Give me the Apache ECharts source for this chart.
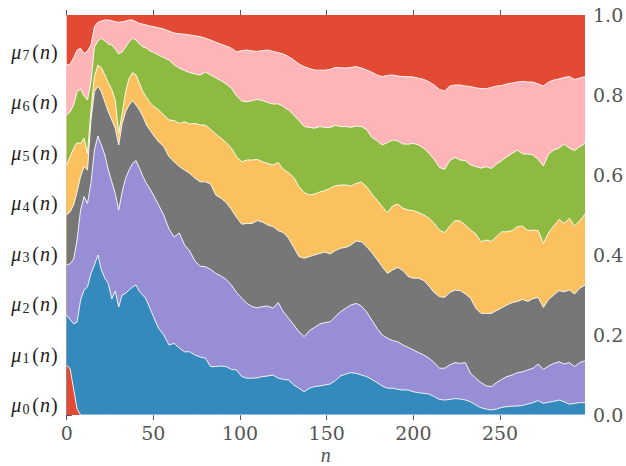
<!DOCTYPE html>
<html>
<head>
<meta charset="utf-8">
<title>Occupation shares μ_k(n)</title>
<script src="https://cdn.jsdelivr.net/npm/echarts@6/dist/echarts.min.js"></script>
<style>
  html, body { margin: 0; padding: 0; background: #ffffff; }
  #chart { width: 626px; height: 466px; }
</style>
</head>
<body>
<div id="chart"></div>
<script>
// step index n
const n = [
  0, 2, 4, 6, 8, 10, 12, 14, 16, 18, 20, 22, 24, 26, 28, 30, 32, 34, 36, 38, 40, 42, 44, 46, 48,
  50, 53, 56, 59, 62, 65, 68, 71, 74, 77,
  80, 83, 86, 89, 92, 95, 98, 101, 104, 107, 110, 113, 116, 119, 122, 125, 128, 131, 134, 137, 140, 143, 146, 149,
  152, 155, 158, 161, 164, 167, 170, 173, 176, 179, 182, 185, 188, 191, 194, 197, 200, 203, 206, 209, 212, 215, 218, 221, 224,
  227, 230, 233, 236, 239, 242, 245, 248, 251, 254, 257, 260, 263, 266, 269, 272, 275, 278, 281, 284, 287, 290, 293, 296, 299
];

// cumulative shares: edgeK = mu_0 + ... + mu_{K-1}
const edge1 = [
  0.125, 0.115, 0.065, 0.015, 0, 0, 0, 0, 0, 0, 0, 0, 0, 0, 0, 0, 0, 0, 0, 0, 0, 0, 0, 0, 0,
  0, 0, 0, 0, 0, 0, 0, 0, 0, 0,
  0, 0, 0, 0, 0, 0, 0, 0, 0, 0, 0, 0, 0, 0, 0, 0, 0, 0, 0, 0, 0, 0, 0, 0,
  0, 0, 0, 0, 0, 0, 0, 0, 0, 0, 0, 0, 0, 0, 0, 0, 0, 0, 0, 0, 0, 0, 0, 0, 0,
  0, 0, 0, 0, 0, 0, 0, 0, 0, 0, 0, 0, 0, 0, 0, 0, 0, 0, 0, 0, 0, 0, 0, 0, 0
];
const edge2 = [
  0.25, 0.238, 0.228, 0.232, 0.2875, 0.3125, 0.32, 0.354, 0.375, 0.40, 0.3625, 0.342, 0.329, 0.29, 0.31, 0.27, 0.30, 0.304, 0.3125, 0.32, 0.325, 0.308, 0.30, 0.2875, 0.267,
  0.246, 0.217, 0.20, 0.175, 0.179, 0.167, 0.158, 0.158, 0.15, 0.145,
  0.142, 0.121, 0.121, 0.1225, 0.121, 0.114, 0.1125, 0.096, 0.092, 0.092, 0.093, 0.096, 0.0975, 0.10, 0.092, 0.089, 0.0875, 0.075, 0.067, 0.058, 0.067, 0.071, 0.0725, 0.075,
  0.0775, 0.086, 0.0975, 0.1025, 0.106, 0.104, 0.10, 0.096, 0.089, 0.081, 0.0725, 0.067, 0.067, 0.064, 0.0625, 0.0625, 0.058, 0.056, 0.054, 0.0525, 0.046, 0.039, 0.0375, 0.039, 0.041,
  0.04, 0.0375, 0.033, 0.025, 0.018, 0.015, 0.0125, 0.015, 0.019, 0.021, 0.022, 0.0225, 0.024, 0.0275, 0.031, 0.036, 0.029, 0.032, 0.034, 0.0375, 0.033, 0.027, 0.029, 0.031, 0.031
];
const edge3 = [
  0.375, 0.378, 0.39, 0.4375, 0.5125, 0.546, 0.529, 0.579, 0.6625, 0.6975, 0.675, 0.65, 0.6125, 0.583, 0.554, 0.5125, 0.558, 0.592, 0.6125, 0.629, 0.636, 0.617, 0.596, 0.579, 0.565,
  0.55, 0.525, 0.50, 0.465, 0.445, 0.455, 0.425, 0.41, 0.385, 0.372,
  0.371, 0.364, 0.354, 0.3475, 0.339, 0.325, 0.306, 0.292, 0.279, 0.271, 0.268, 0.271, 0.2725, 0.267, 0.281, 0.258, 0.242, 0.225, 0.208, 0.196, 0.211, 0.219, 0.2275, 0.231,
  0.233, 0.246, 0.258, 0.267, 0.275, 0.279, 0.2725, 0.258, 0.2375, 0.217, 0.20, 0.192, 0.186, 0.183, 0.175, 0.169, 0.1625, 0.156, 0.15, 0.142, 0.131, 0.117, 0.117, 0.125, 0.131,
  0.129, 0.131, 0.104, 0.092, 0.081, 0.073, 0.071, 0.081, 0.089, 0.096, 0.10, 0.106, 0.108, 0.1125, 0.117, 0.1275, 0.114, 0.1225, 0.129, 0.133, 0.1275, 0.131, 0.121, 0.131, 0.136
];
const edge4 = [
  0.5, 0.508, 0.525, 0.558, 0.596, 0.621, 0.6125, 0.7375, 0.808, 0.8225, 0.808, 0.783, 0.758, 0.7375, 0.717, 0.675, 0.729, 0.758, 0.775, 0.786, 0.775, 0.7625, 0.746, 0.725, 0.7125,
  0.70, 0.683, 0.671, 0.646, 0.633, 0.621, 0.6125, 0.604, 0.592, 0.583,
  0.583, 0.5775, 0.55, 0.542, 0.531, 0.514, 0.494, 0.477, 0.479, 0.479, 0.486, 0.4825, 0.475, 0.471, 0.461, 0.456, 0.442, 0.419, 0.396, 0.392, 0.396, 0.40, 0.404, 0.4075,
  0.4025, 0.411, 0.417, 0.419, 0.425, 0.435, 0.433, 0.421, 0.406, 0.389, 0.371, 0.354, 0.3625, 0.369, 0.361, 0.346, 0.342, 0.342, 0.336, 0.3225, 0.306, 0.296, 0.294, 0.306, 0.3125,
  0.311, 0.3025, 0.292, 0.267, 0.254, 0.254, 0.254, 0.261, 0.268, 0.275, 0.281, 0.284, 0.289, 0.284, 0.291, 0.294, 0.269, 0.289, 0.30, 0.311, 0.308, 0.3125, 0.3025, 0.317, 0.325
];
const edge5 = [
  0.625, 0.646, 0.667, 0.681, 0.679, 0.692, 0.654, 0.7625, 0.846, 0.875, 0.869, 0.85, 0.831, 0.814, 0.7875, 0.704, 0.754, 0.808, 0.842, 0.856, 0.85, 0.829, 0.808, 0.794, 0.781,
  0.7725, 0.7625, 0.75, 0.7375, 0.736, 0.729, 0.733, 0.7275, 0.729, 0.725,
  0.725, 0.714, 0.7025, 0.692, 0.681, 0.667, 0.646, 0.633, 0.6375, 0.6375, 0.639, 0.633, 0.629, 0.625, 0.631, 0.614, 0.606, 0.594, 0.571, 0.556, 0.55, 0.5525, 0.5575, 0.561,
  0.567, 0.573, 0.575, 0.575, 0.5725, 0.579, 0.5825, 0.571, 0.5525, 0.5375, 0.521, 0.506, 0.5225, 0.5275, 0.517, 0.5125, 0.511, 0.506, 0.50, 0.492, 0.479, 0.4625, 0.456, 0.4725, 0.486,
  0.485, 0.475, 0.4625, 0.4525, 0.433, 0.4375, 0.434, 0.446, 0.458, 0.458, 0.461, 0.471, 0.4725, 0.461, 0.4625, 0.461, 0.429, 0.456, 0.4725, 0.489, 0.479, 0.492, 0.4725, 0.486, 0.5025
];
const edge6 = [
  0.75, 0.758, 0.775, 0.808, 0.815, 0.7975, 0.7875, 0.833, 0.92, 0.935, 0.942, 0.935, 0.9275, 0.925, 0.915, 0.9025, 0.908, 0.92, 0.933, 0.942, 0.9375, 0.9275, 0.92, 0.917, 0.91,
  0.9067, 0.90, 0.8933, 0.8875, 0.875, 0.867, 0.861, 0.856, 0.8525, 0.85,
  0.8575, 0.85, 0.843, 0.836, 0.8275, 0.817, 0.7975, 0.785, 0.783, 0.786, 0.789, 0.786, 0.781, 0.7775, 0.778, 0.771, 0.7625, 0.75, 0.736, 0.721, 0.719, 0.717, 0.721, 0.719,
  0.719, 0.724, 0.721, 0.721, 0.719, 0.7225, 0.721, 0.714, 0.694, 0.686, 0.675, 0.681, 0.6875, 0.685, 0.6775, 0.677, 0.679, 0.675, 0.667, 0.654, 0.639, 0.619, 0.614, 0.636, 0.644,
  0.6375, 0.636, 0.625, 0.621, 0.617, 0.621, 0.616, 0.6275, 0.636, 0.646, 0.654, 0.6625, 0.6525, 0.6525, 0.65, 0.639, 0.6225, 0.6525, 0.6625, 0.667, 0.6775, 0.667, 0.661, 0.671, 0.679
];
const edge7 = [
  0.875, 0.877, 0.893, 0.9125, 0.9167, 0.904, 0.91, 0.925, 0.971, 0.982, 0.985, 0.9875, 0.9875, 0.986, 0.983, 0.982, 0.983, 0.985, 0.9875, 0.9875, 0.983, 0.979, 0.977, 0.975, 0.9725,
  0.971, 0.968, 0.965, 0.96, 0.955, 0.953, 0.952, 0.95, 0.948, 0.946,
  0.942, 0.9375, 0.932, 0.927, 0.9225, 0.917, 0.908, 0.911, 0.9125, 0.91, 0.909, 0.911, 0.9125, 0.909, 0.906, 0.9025, 0.896, 0.8875, 0.8775, 0.871, 0.866, 0.8625, 0.862, 0.862,
  0.864, 0.869, 0.868, 0.8675, 0.869, 0.871, 0.8675, 0.8625, 0.857, 0.85, 0.846, 0.849, 0.85, 0.8475, 0.846, 0.846, 0.845, 0.842, 0.839, 0.833, 0.825, 0.814, 0.81, 0.8225, 0.825,
  0.825, 0.8225, 0.821, 0.818, 0.816, 0.816, 0.819, 0.8225, 0.824, 0.8275, 0.83, 0.8325, 0.834, 0.8325, 0.8325, 0.8275, 0.8225, 0.8325, 0.8375, 0.84, 0.844, 0.846, 0.839, 0.8425, 0.846
];

// axis ticks and layer labels
const nTicks = [0, 50, 100, 150, 200, 250];
const layerIds = ['0', '1', '2', '3', '4', '5', '6', '7'];
const layerColors = ['#E24A33', '#348ABD', '#988ED5', '#777777', '#FBC15E', '#8EBA42', '#FFB5B8', '#E24A33'];

// upper edge of each layer; the last layer always reaches 1
const ones = n.map(() => 1);
const upperEdges = [edge1, edge2, edge3, edge4, edge5, edge6, edge7, ones];

const tickFont = { fontFamily: 'DejaVu Serif', fontSize: 19, lineHeight: 19, color: '#555555' };
const mathFont = 'Liberation Serif';

const chart = echarts.init(document.getElementById('chart'), null, { renderer: 'svg' });

chart.setOption({
  animation: false,
  backgroundColor: '#ffffff',
  grid: [
    { left: 66.7, right: 41, top: 15, bottom: 51, outerBoundsMode: 'none', containLabel: false },
    { left: 66.7, right: 41, top: 26.25, height: 404, outerBoundsMode: 'none', containLabel: false }
  ],
  xAxis: [
    {
      gridIndex: 0, type: 'value', min: 0, max: 299, position: 'bottom',
      axisLine: { show: false },
      splitLine: { show: false },
      axisTick: { show: true, length: 5, customValues: nTicks, lineStyle: { color: '#555555', width: 1 } },
      axisLabel: Object.assign({ margin: 8, customValues: nTicks }, tickFont),
      name: 'n', nameLocation: 'middle', nameGap: 34, nameMoveOverlap: false,
      nameTextStyle: { fontFamily: mathFont, fontStyle: 'italic', fontSize: 20, lineHeight: 12, color: '#555555' }
    },
    {
      gridIndex: 0, type: 'value', min: 0, max: 299, position: 'top',
      axisLine: { show: false },
      splitLine: { show: false },
      axisTick: { show: true, length: 5, customValues: nTicks, lineStyle: { color: '#555555', width: 1 } },
      axisLabel: { show: false }
    },
    { gridIndex: 1, type: 'value', show: false }
  ],
  yAxis: [
    {
      gridIndex: 0, type: 'value', min: 0, max: 1, interval: 0.2, position: 'right',
      axisLine: { show: false },
      splitLine: { show: false },
      axisTick: { show: true, length: 5, lineStyle: { color: '#555555', width: 1 } },
      axisLabel: Object.assign({ margin: 8, formatter: (v) => v.toFixed(1) }, tickFont)
    },
    {
      gridIndex: 1, type: 'category', data: layerIds, position: 'left',
      axisLine: { show: false },
      axisTick: { show: false },
      splitLine: { show: false },
      axisLabel: {
        margin: 9,
        formatter: (k) => '{m|μ}{s|' + k + '}{p|(}{i|n}{p|)}',
        rich: {
          m: { fontFamily: mathFont, fontStyle: 'italic', fontSize: 20, lineHeight: 22, color: '#222222', padding: [0, 1, 0, 0] },
          s: { fontFamily: mathFont, fontSize: 14, lineHeight: 10, verticalAlign: 'bottom', color: '#222222', padding: [0, 3, 0, 0] },
          p: { fontFamily: mathFont, fontSize: 20, lineHeight: 22, color: '#222222' },
          i: { fontFamily: mathFont, fontStyle: 'italic', fontSize: 20, lineHeight: 22, color: '#222222', padding: [0, 1, 0, 1] }
        }
      }
    }
  ],
  // each layer is filled from the axis up to its upper edge; lower layers sit on top
  series: layerIds.map((id, k) => ({
    name: 'μ' + id + '(n)',
    type: 'line',
    xAxisIndex: 0,
    yAxisIndex: 0,
    z: 10 - k,
    silent: true,
    symbol: 'none',
    showSymbol: false,
    lineStyle: { color: 'rgba(255,255,255,0.9)', width: k === 7 ? 0 : 1 },
    areaStyle: { color: layerColors[k], opacity: 1, origin: 'start' },
    data: n.map((x, i) => [x, upperEdges[k][i]])
  }))
});
</script>
</body>
</html>
